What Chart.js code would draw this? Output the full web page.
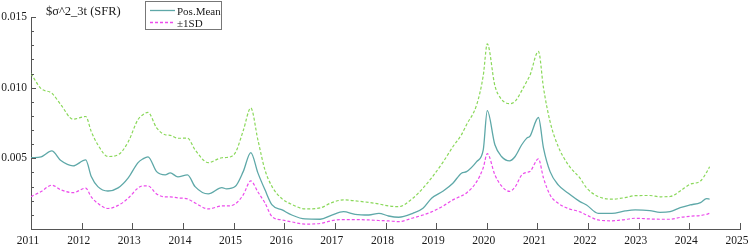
<!DOCTYPE html>
<html>
<head>
<meta charset="utf-8">
<script src="https://cdn.jsdelivr.net/npm/chart.js@4"></script>
<style>
  html, body { margin: 0; padding: 0; background: #fff; }
  #wrap { width: 750px; height: 247px; }
</style>
</head>
<body>
<div id="wrap"><canvas id="chart" width="750" height="247"></canvas></div>
<script>
// decimal years of the sampled points
const dates = [
  2011.00, 2011.20, 2011.41, 2011.59, 2011.83, 2012.08, 2012.19, 2012.32, 2012.52, 2012.72,
  2012.92, 2013.11, 2013.21, 2013.31, 2013.48, 2013.65, 2013.75, 2013.90, 2014.09, 2014.24,
  2014.50, 2014.77, 2014.86, 2015.03, 2015.19, 2015.34, 2015.48, 2015.62, 2015.76, 2015.96,
  2016.15, 2016.41, 2016.71, 2016.94, 2017.17, 2017.40, 2017.67, 2017.87, 2018.06, 2018.26,
  2018.54, 2018.74, 2018.91, 2019.14, 2019.33, 2019.50, 2019.60, 2019.80, 2019.93, 2020.01,
  2020.16, 2020.29, 2020.45, 2020.56, 2020.69, 2020.79, 2020.85, 2021.02, 2021.12, 2021.25,
  2021.41, 2021.61, 2021.84, 2021.97, 2022.20, 2022.47, 2022.73, 2022.93, 2023.22, 2023.42,
  2023.62, 2023.82, 2024.01, 2024.22, 2024.34, 2024.40
];

const posMean = [
  0.00504, 0.00511, 0.00553, 0.00484, 0.00447, 0.00489, 0.00371, 0.00300, 0.00269, 0.00291,
  0.00362, 0.00468, 0.00496, 0.00511, 0.00406, 0.00383, 0.00397, 0.00369, 0.00383, 0.00300,
  0.00248, 0.00293, 0.00284, 0.00300, 0.00406, 0.00541, 0.00397, 0.00277, 0.00170, 0.00135,
  0.00099, 0.00071, 0.00069, 0.00099, 0.00123, 0.00104, 0.00099, 0.00111, 0.00092, 0.00083,
  0.00111, 0.00147, 0.00218, 0.00269, 0.00324, 0.00395, 0.00406, 0.00477, 0.00560, 0.00837,
  0.00596, 0.00513, 0.00482, 0.00513, 0.00596, 0.00643, 0.00655, 0.00789, 0.00572, 0.00406,
  0.00312, 0.00253, 0.00194, 0.00170, 0.00111, 0.00111, 0.00128, 0.00135, 0.00130, 0.00118,
  0.00123, 0.00151, 0.00170, 0.00187, 0.00215, 0.00211
];

const upperSD = [
  0.01099, 0.00993, 0.00961, 0.00879, 0.00777, 0.00796, 0.00690, 0.00596, 0.00513, 0.00525,
  0.00617, 0.00773, 0.00808, 0.00825, 0.00716, 0.00667, 0.00663, 0.00642, 0.00643, 0.00560,
  0.00470, 0.00504, 0.00506, 0.00537, 0.00695, 0.00856, 0.00631, 0.00418, 0.00300, 0.00213,
  0.00174, 0.00142, 0.00149, 0.00187, 0.00206, 0.00199, 0.00188, 0.00177, 0.00163, 0.00158,
  0.00218, 0.00289, 0.00362, 0.00475, 0.00582, 0.00667, 0.00738, 0.00879, 0.01085, 0.01310,
  0.01014, 0.00918, 0.00887, 0.00903, 0.00979, 0.01045, 0.01085, 0.01257, 0.00998, 0.00759,
  0.00584, 0.00454, 0.00360, 0.00291, 0.00230, 0.00211, 0.00222, 0.00236, 0.00237, 0.00228,
  0.00230, 0.00269, 0.00316, 0.00340, 0.00401, 0.00440
];

const lowerSD = [
  0.00229, 0.00265, 0.00310, 0.00277, 0.00257, 0.00289, 0.00227, 0.00181, 0.00145, 0.00167,
  0.00218, 0.00289, 0.00305, 0.00305, 0.00248, 0.00227, 0.00227, 0.00220, 0.00213, 0.00184,
  0.00142, 0.00163, 0.00163, 0.00177, 0.00241, 0.00340, 0.00262, 0.00184, 0.00087, 0.00064,
  0.00050, 0.00035, 0.00039, 0.00059, 0.00067, 0.00067, 0.00064, 0.00060, 0.00057, 0.00052,
  0.00078, 0.00099, 0.00121, 0.00163, 0.00206, 0.00234, 0.00255, 0.00335, 0.00433, 0.00533,
  0.00383, 0.00305, 0.00266, 0.00298, 0.00383, 0.00401, 0.00406, 0.00496, 0.00360, 0.00241,
  0.00182, 0.00145, 0.00121, 0.00099, 0.00064, 0.00058, 0.00067, 0.00076, 0.00071, 0.00069,
  0.00069, 0.00082, 0.00090, 0.00096, 0.00104, 0.00111
];

const yearTicks = [2011, 2012, 2013, 2014, 2015, 2016, 2017, 2018, 2019, 2020, 2021, 2022, 2023, 2024, 2025];
const titleText = '$\u03c3^2_3t (SFR)';
const legendLabels = ['Pos.Mean', '\u00b11SD'];

const MEAN_COLOR = '#5ea8a8';
const UP_COLOR = '#8ad85a';
const LOW_COLOR = '#ec4cec';
const AXIS_COLOR = '#555';
const FONT = '"Liberation Serif", "DejaVu Serif", serif';

const pts = arr => dates.map((d, i) => ({ x: d, y: arr[i] }));

// inward tick marks, title and boxed legend
const decor = {
  id: 'decor',
  afterDraw(chart) {
    const { ctx, chartArea: a, scales: { x, y } } = chart;
    ctx.save();
    ctx.strokeStyle = AXIS_COLOR;
    ctx.lineWidth = 1;
    ctx.beginPath();
    yearTicks.forEach(v => {
      const px = Math.round(x.getPixelForValue(v)) + 0.5;
      ctx.moveTo(px, a.bottom);
      ctx.lineTo(px, a.bottom - 6);
    });
    for (let k = 1; k <= 15; k++) {
      const py = Math.round(y.getPixelForValue(k / 1000)) + 0.5;
      ctx.moveTo(a.left, py);
      ctx.lineTo(a.left + (k % 5 === 0 ? 5 : 3), py);
    }
    ctx.stroke();

    ctx.fillStyle = '#1a1a1a';
    ctx.font = '12.5px ' + FONT;
    ctx.textBaseline = 'alphabetic';
    ctx.fillText(titleText, 46, 15);

    // legend
    ctx.strokeStyle = '#777';
    ctx.strokeRect(145.5, 1.5, 76, 28);
    ctx.lineWidth = 1.3;
    ctx.strokeStyle = MEAN_COLOR;
    ctx.beginPath(); ctx.moveTo(150, 10.5); ctx.lineTo(175, 10.5); ctx.stroke();
    ctx.strokeStyle = LOW_COLOR;
    ctx.setLineDash([3, 2]);
    ctx.beginPath(); ctx.moveTo(150, 22.5); ctx.lineTo(175, 22.5); ctx.stroke();
    ctx.setLineDash([]);
    ctx.fillStyle = '#1a1a1a';
    ctx.font = '11px ' + FONT;
    ctx.fillText(legendLabels[0], 177, 14.5);
    ctx.fillText(legendLabels[1], 177, 26.5);
    ctx.restore();
  }
};

new Chart(document.getElementById('chart'), {
  type: 'line',
  data: {
    datasets: [
      { label: 'upper', data: pts(upperSD), borderColor: UP_COLOR, borderDash: [3, 2], borderWidth: 1.2 },
      { label: 'lower', data: pts(lowerSD), borderColor: LOW_COLOR, borderDash: [3, 2], borderWidth: 1.2 },
      { label: 'mean', data: pts(posMean), borderColor: MEAN_COLOR, borderWidth: 1.3 }
    ]
  },
  options: {
    responsive: false,
    animation: false,
    layout: { padding: { top: 17, right: 10, left: 0, bottom: 0 } },
    elements: {
      point: { radius: 0 },
      line: { cubicInterpolationMode: 'monotone', fill: false }
    },
    plugins: { legend: { display: false }, tooltip: { enabled: false } },
    scales: {
      x: {
        type: 'linear', min: 2011, max: 2025,
        afterFit: s => { s.height = 18; s.paddingRight = 0; s.paddingLeft = 0; },
        grid: { display: false, drawTicks: false },
        border: { display: true, color: AXIS_COLOR, width: 1 },
        ticks: {
          stepSize: 1, autoSkip: false, maxRotation: 0, padding: 5, labelOffset: -3,
          color: '#1a1a1a', font: { family: FONT, size: 11.5 },
          callback: v => String(v)
        }
      },
      y: {
        min: 0, max: 0.015,
        afterFit: s => { s.width = 31; },
        grid: { display: false, drawTicks: false },
        border: { display: true, color: AXIS_COLOR, width: 1 },
        ticks: {
          stepSize: 0.005, padding: 4,
          color: '#1a1a1a', font: { family: FONT, size: 11.5 },
          callback: v => (v === 0 ? '' : v.toFixed(3))
        }
      }
    }
  },
  plugins: [decor]
});
</script>
</body>
</html>
